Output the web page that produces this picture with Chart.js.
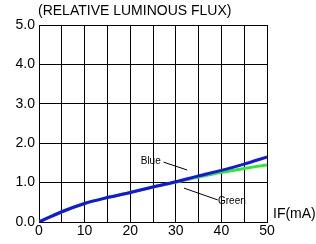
<!DOCTYPE html>
<html>
<head>
<meta charset="utf-8">
<script src="https://cdn.jsdelivr.net/npm/chart.js@4/dist/chart.umd.min.js"></script>
<style>
  html, body { margin: 0; padding: 0; background: #fff; }
  #wrap { width: 316px; height: 244px; position: relative; }
</style>
</head>
<body>
<div id="wrap"><canvas id="myLine" width="316" height="244"></canvas></div>
<script>
const currents = [0, 5, 10, 15, 20, 25, 30, 35, 40, 45, 50];
const blueFlux = [0, 0.26, 0.47, 0.62, 0.75, 0.89, 1.02, 1.17, 1.31, 1.47, 1.65];
const greenFlux = [0, 0.26, 0.47, 0.62, 0.75, 0.89, 1.01, 1.14, 1.26, 1.36, 1.45];
const xTicks = [0, 5, 10, 15, 20, 25, 30, 35, 40, 45, 50];
const yTicks = [0, 1, 2, 3, 4, 5];

const FONT = 'Liberation Sans, Arial, sans-serif';

// callout labels, placed in data units
const callouts = [
  { text: 'Blue', at: [24.5, 1.55], from: [27.3, 1.52], to: [32.5, 1.32] },
  { text: 'Green', at: [42.3, 0.53], from: [39.2, 0.56], to: [31.8, 0.86] }
];

const extras = {
  id: 'extras',
  afterDraw(chart) {
    const ctx = chart.ctx;
    const xs = chart.scales.x;
    const ys = chart.scales.y;
    const area = chart.chartArea;
    ctx.save();
    ctx.fillStyle = '#000';
    ctx.font = '14px ' + FONT;
    ctx.textBaseline = 'middle';
    ctx.textAlign = 'left';
    ctx.fillText('(RELATIVE LUMINOUS FLUX)', 38, 11);
    ctx.fillText('IF(mA)', area.right + 6, area.bottom - 8);
    ctx.font = '10px ' + FONT;
    ctx.textAlign = 'center';
    ctx.strokeStyle = '#000';
    ctx.lineWidth = 1;
    for (const c of callouts) {
      ctx.fillText(c.text, xs.getPixelForValue(c.at[0]), ys.getPixelForValue(c.at[1]));
      ctx.beginPath();
      ctx.moveTo(xs.getPixelForValue(c.from[0]), ys.getPixelForValue(c.from[1]));
      ctx.lineTo(xs.getPixelForValue(c.to[0]), ys.getPixelForValue(c.to[1]));
      ctx.stroke();
    }
    ctx.restore();
  }
};

const lineCtx = document.getElementById('myLine').getContext('2d');
new Chart(lineCtx, {
  type: 'line',
  data: {
    datasets: [
      {
        label: 'Blue',
        data: currents.map((x, i) => ({ x: x, y: blueFlux[i] })),
        borderColor: 'rgb(20, 20, 235)',
        borderWidth: 3,
        pointRadius: 0,
        tension: 0.3
      },
      {
        label: 'Green',
        data: currents.map((x, i) => ({ x: x, y: greenFlux[i] })),
        borderColor: 'rgb(40, 235, 40)',
        borderWidth: 3,
        pointRadius: 0,
        tension: 0.3
      }
    ]
  },
  options: {
    responsive: false,
    animation: false,
    layout: { padding: { top: 25, right: 49, left: 0, bottom: 0 } },
    plugins: { legend: { display: false }, tooltip: { enabled: false } },
    scales: {
      x: {
        type: 'linear',
        min: 0,
        max: 50,
        afterFit(scale) { scale.height = 22; },
        afterBuildTicks(scale) { scale.ticks = xTicks.map(v => ({ value: v })); },
        ticks: {
          color: '#000',
          font: { family: FONT, size: 14 },
          padding: 1,
          maxRotation: 0,
          autoSkip: false,
          callback: v => (v % 10 === 0 ? String(v) : '')
        },
        grid: { color: '#000', lineWidth: 1, drawTicks: false },
        border: { color: '#000', width: 1 }
      },
      y: {
        min: 0,
        max: 5,
        afterFit(scale) { scale.width = 39; },
        afterBuildTicks(scale) { scale.ticks = yTicks.map(v => ({ value: v })); },
        ticks: {
          color: '#000',
          font: { family: FONT, size: 14 },
          padding: 4,
          callback: v => v.toFixed(1)
        },
        grid: { color: '#000', lineWidth: 1, drawTicks: false },
        border: { color: '#000', width: 1 }
      }
    }
  },
  plugins: [extras]
});
</script>
</body>
</html>
